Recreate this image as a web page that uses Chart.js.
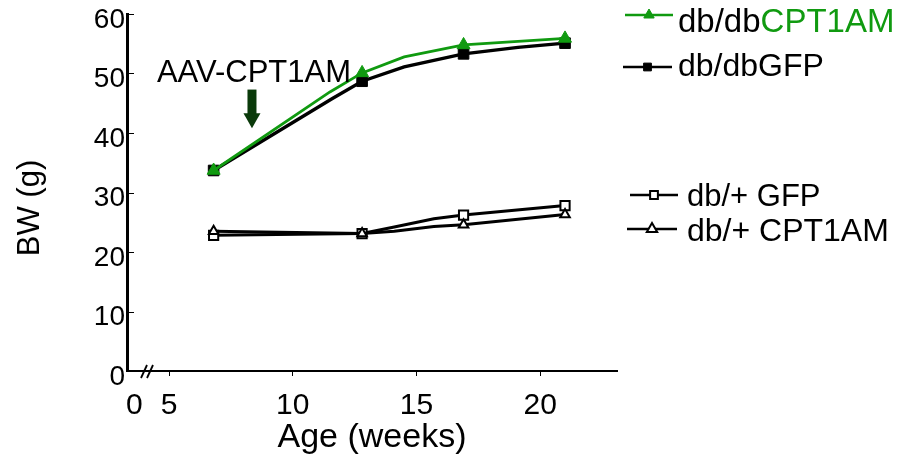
<!DOCTYPE html>
<html><head><meta charset="utf-8">
<script src="https://cdn.jsdelivr.net/npm/chart.js@4/dist/chart.umd.min.js"></script>
<style>html,body{margin:0;padding:0;background:#fff;}#wrap{width:917px;height:462px;}</style>
</head><body><div id="wrap"><canvas id="c" width="917" height="462"></canvas></div>
<script>
// ---- data ----
const seriesNames = ['db/db CPT1AM', 'db/db GFP', 'db/+ CPT1AM', 'db/+ GFP'];
const weeksDbDbCpt = [6.8, 11.5, 12.8, 14.5, 16.9, 19.1, 21.0];
const bwDbDbCpt    = [33.7, 46.9, 50.1, 52.8, 54.8, 55.4, 55.9];
const weeksDbDbGfp = [6.8, 11.6, 12.8, 14.5, 16.9, 19.1, 21.0];
const bwDbDbGfp    = [33.7, 45.8, 48.7, 51.1, 53.3, 54.4, 55.1];
const weeksHetCpt  = [6.8, 12.8, 14.1, 15.7, 16.9, 21.0];
const bwHetCpt     = [23.5, 23.1, 23.5, 24.3, 24.6, 26.3];
const weeksHetGfp  = [6.8, 12.8, 14.1, 15.7, 16.9, 21.0];
const bwHetGfp     = [22.8, 23.1, 24.2, 25.6, 26.2, 27.8];
const markerWeeks  = [6.8, 12.8, 16.9, 21.0];
const xTickValues  = [5, 10, 15, 20];
const xBreakLabel  = '0';
const xBreakLabelAt = 3.6;
const yTickValues  = [0, 10, 20, 30, 40, 50, 60];
const xTitle = 'Age (weeks)';
const yTitle = 'BW (g)';
const annotationText = 'AAV-CPT1AM';
const annotationWeek = 8.35;
const annotationTextBW = 48.6;
const arrowTopBW = 47.3, arrowTipBW = 40.8;

const GREEN = '#109a10';
const DARKGREEN = '#0a3a0a';
const FONT = '"Liberation Sans", Arial, Helvetica, sans-serif';

const pts = (xs, ys) => xs.map((x, i) => ({x: x, y: ys[i]}));
const mr = r => ctx => (ctx.raw && markerWeeks.includes(ctx.raw.x)) ? r : 0;

const datasets = [
  {label: seriesNames[0], data: pts(weeksDbDbCpt, bwDbDbCpt), borderColor: GREEN, backgroundColor: GREEN,
   borderWidth: 2.8, pointStyle: 'triangle', pointRadius: mr(7.5), pointBorderWidth: 1, pointBorderColor: GREEN, pointBackgroundColor: GREEN},
  {label: seriesNames[1], data: pts(weeksDbDbGfp, bwDbDbGfp), borderColor: '#000', backgroundColor: '#000',
   borderWidth: 3.3, pointStyle: 'rect', pointRadius: mr(7.5), pointBorderWidth: 1, pointBorderColor: '#000', pointBackgroundColor: '#000'},
  {label: seriesNames[2], data: pts(weeksHetCpt, bwHetCpt), borderColor: '#000', backgroundColor: '#fff',
   borderWidth: 3, pointStyle: 'triangle', pointRadius: mr(5.5), pointBorderWidth: 2, pointBorderColor: '#000', pointBackgroundColor: '#fff'},
  {label: seriesNames[3], data: pts(weeksHetGfp, bwHetGfp), borderColor: '#000', backgroundColor: '#fff',
   borderWidth: 3, pointStyle: 'rect', pointRadius: mr(6.5), pointBorderWidth: 2, pointBorderColor: '#000', pointBackgroundColor: '#fff'}
];

function drawMarker(ctx, style, x, y, r, fill, stroke, lw) {
  ctx.save();
  ctx.beginPath();
  if (style === 'triangle') {
    ctx.moveTo(x, y - r);
    ctx.lineTo(x + r * 0.866, y + r * 0.5);
    ctx.lineTo(x - r * 0.866, y + r * 0.5);
    ctx.closePath();
  } else {
    const s = r * Math.SQRT1_2;
    ctx.rect(x - s, y - s, 2 * s, 2 * s);
  }
  ctx.fillStyle = fill; ctx.fill();
  ctx.lineWidth = lw; ctx.strokeStyle = stroke; ctx.stroke();
  ctx.restore();
}

const decor = {
  id: 'decor',
  afterDraw(chart) {
    const ctx = chart.ctx, ca = chart.chartArea;
    const xs = chart.scales.x, ys = chart.scales.y;
    ctx.save();
    // y axis title
    ctx.save();
    ctx.translate(30, 208);
    ctx.rotate(-Math.PI / 2);
    ctx.font = '31px ' + FONT; ctx.fillStyle = '#000';
    ctx.textAlign = 'center'; ctx.textBaseline = 'middle';
    ctx.fillText(yTitle, 0, 0);
    ctx.restore();
    // inward y ticks
    ctx.strokeStyle = '#000'; ctx.lineWidth = 1;
    yTickValues.forEach(v => {
      const py = Math.round(ys.getPixelForValue(v)) + 0.5;
      ctx.beginPath(); ctx.moveTo(ca.left, py); ctx.lineTo(ca.left + 7, py); ctx.stroke();
    });
    // axis break marks
    ctx.lineWidth = 1.8;
    [ca.left + 17, ca.left + 23].forEach(bx => {
      ctx.beginPath(); ctx.moveTo(bx - 3, ca.bottom + 7); ctx.lineTo(bx + 3, ca.bottom - 6); ctx.stroke();
    });
    // annotation text + arrow
    const ax = xs.getPixelForValue(annotationWeek);
    ctx.fillStyle = '#000';
    ctx.font = '31px ' + FONT;
    ctx.textAlign = 'center'; ctx.textBaseline = 'alphabetic';
    ctx.fillText(annotationText, ax + 2, ys.getPixelForValue(annotationTextBW));
    const t = ys.getPixelForValue(arrowTopBW), tip = ys.getPixelForValue(arrowTipBW);
    const headH = 15;
    ctx.fillStyle = DARKGREEN;
    ctx.fillRect(ax - 4.5, t, 9, tip - headH - t + 1);
    ctx.beginPath(); ctx.moveTo(ax - 8.5, tip - headH); ctx.lineTo(ax + 8.5, tip - headH); ctx.lineTo(ax, tip); ctx.closePath(); ctx.fill();
    // legend
    const rows = [
      {ds: 0, x1: 625, x2: 673, ly: 15, tx: 678, ty: 32, parts: [['db/db', '#000'], ['CPT1AM', GREEN]], size: 33},
      {ds: 1, x1: 623, x2: 672, ly: 67, tx: 678, ty: 76, parts: [['db/dbGFP', '#000']], size: 32},
      {ds: 3, x1: 630, x2: 678, ly: 195, tx: 687, ty: 206, parts: [['db/+ GFP', '#000']], size: 31},
      {ds: 2, x1: 627, x2: 677, ly: 229, tx: 687, ty: 241, parts: [['db/+ CPT1AM', '#000']], size: 32}
    ];
    rows.forEach(r => {
      const d = datasets[r.ds];
      ctx.strokeStyle = d.borderColor; ctx.lineWidth = 2.5;
      ctx.beginPath(); ctx.moveTo(r.x1, r.ly); ctx.lineTo(r.x2, r.ly); ctx.stroke();
      const mrad = d.pointStyle === 'triangle' ? 6 : 5.5;
      drawMarker(ctx, d.pointStyle, (r.x1 + r.x2) / 2, r.ly, mrad, d.pointBackgroundColor, d.pointBorderColor, d.pointBorderWidth);
      ctx.font = r.size + 'px ' + FONT;
      ctx.textAlign = 'left'; ctx.textBaseline = 'alphabetic';
      let cx = r.tx;
      r.parts.forEach(p => { ctx.fillStyle = p[1]; ctx.fillText(p[0], cx, r.ty); cx += ctx.measureText(p[0]).width; });
    });
    ctx.restore();
  }
};

new Chart(document.getElementById('c'), {
  type: 'line',
  data: {datasets: datasets},
  options: {
    responsive: false, animation: false, devicePixelRatio: 1, events: [],
    layout: {padding: {left: 0, top: 14, right: 300, bottom: 0}},
    plugins: {legend: {display: false}, tooltip: {enabled: false}},
    elements: {line: {tension: 0}},
    scales: {
      x: {
        type: 'linear', min: 3.3, max: 23.1,
        afterBuildTicks: s => { s.ticks = [{value: xBreakLabelAt}].concat(xTickValues.map(v => ({value: v}))); },
        afterFit: s => { s.height = 91; s.paddingLeft = 0; s.paddingRight = 0; },
        ticks: {autoSkip: false, maxRotation: 0, color: '#000', padding: 12,
                font: {family: FONT, size: 30},
                callback: v => v === xBreakLabelAt ? xBreakLabel : String(v)},
        grid: {drawOnChartArea: false, drawTicks: true, tickLength: 5, tickWidth: 1,
               tickColor: c => (c.tick && c.tick.value === xBreakLabelAt) ? 'rgba(0,0,0,0)' : '#000'},
        border: {display: true, color: '#000', width: 2},
        title: {display: true, text: xTitle, color: '#000', font: {family: FONT, size: 34}, padding: {top: 0, bottom: 4}}
      },
      y: {
        min: 0, max: 60,
        afterBuildTicks: s => { s.ticks = yTickValues.map(v => ({value: v})); },
        afterFit: s => { s.width = 127; s.paddingTop = 0; s.paddingBottom = 0; },
        ticks: {color: '#000', padding: 2, labelOffset: 6, font: {family: FONT, size: 28}},
        grid: {drawOnChartArea: false, drawTicks: false},
        border: {display: true, color: '#000', width: 3},
        title: {display: false}
      }
    }
  },
  plugins: [decor]
});
</script></body></html>
